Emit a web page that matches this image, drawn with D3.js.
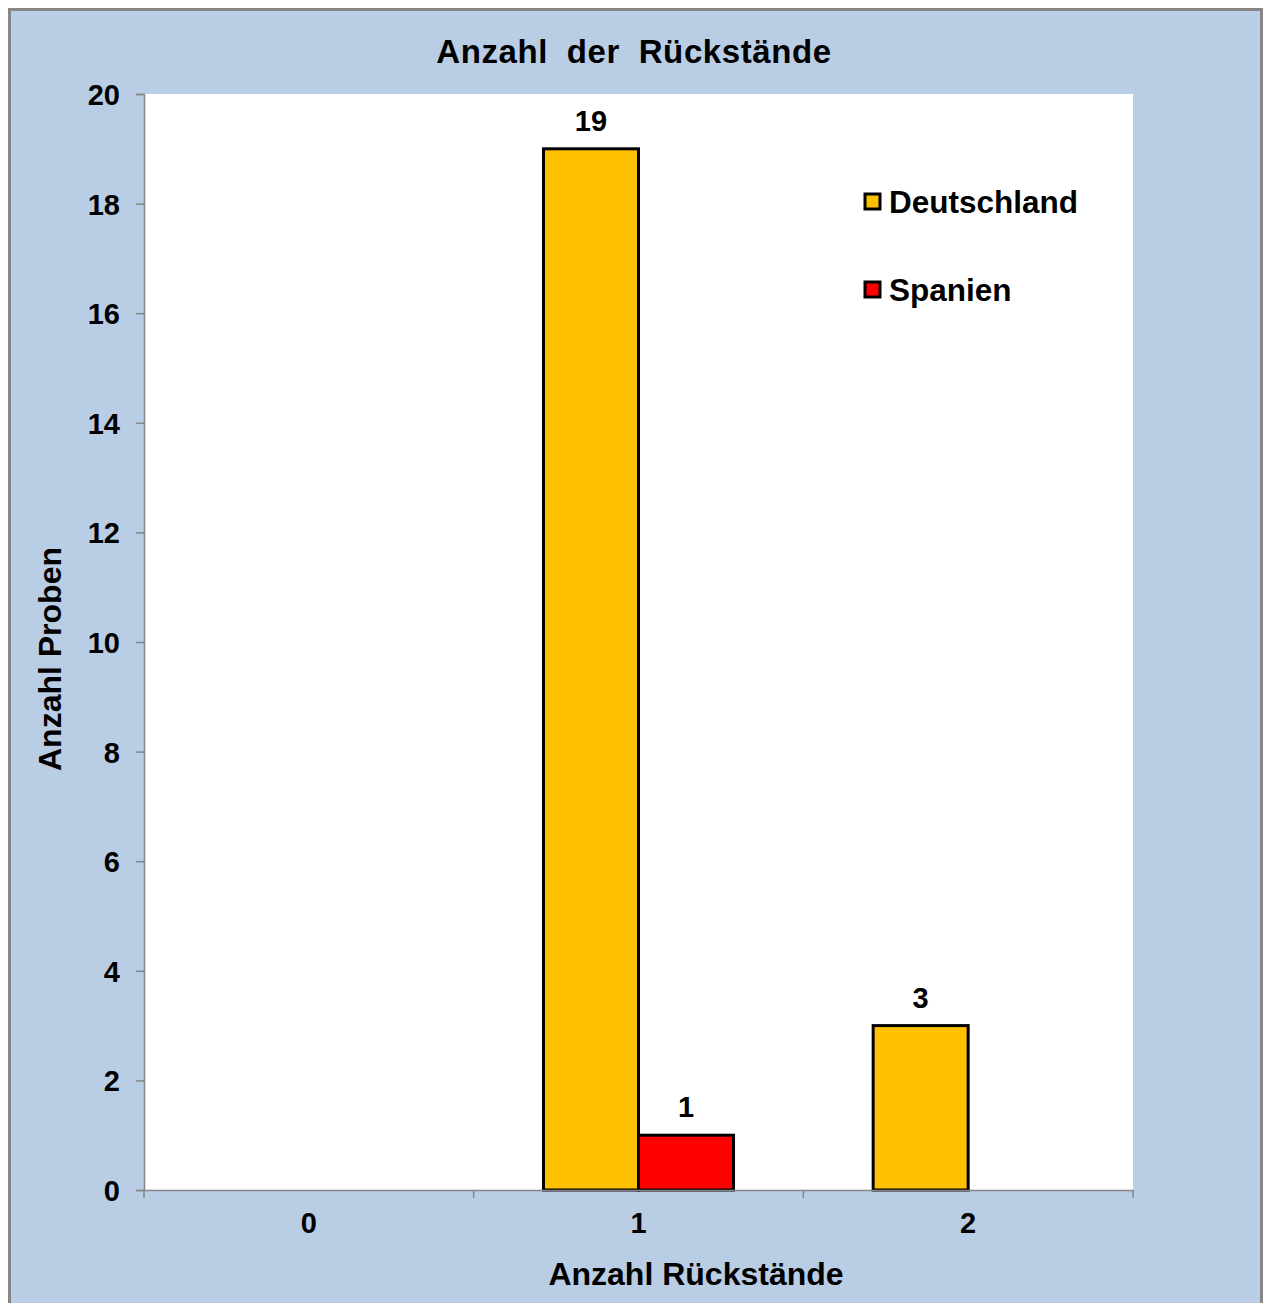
<!DOCTYPE html>
<html>
<head>
<meta charset="utf-8">
<script src="https://cdn.jsdelivr.net/npm/d3@7"></script>
<style>
  html, body { margin: 0; padding: 0; background: #ffffff; }
  svg { display: block; }
  text { font-family: "Liberation Sans", Arial, sans-serif; font-weight: bold; fill: #000; }
</style>
</head>
<body>
<script>
// Chart data
const categories = ["0", "1", "2"];
const seriesNames = ["Deutschland", "Spanien"];
const deutschland = [0, 19, 3];
const spanien = [0, 1, 0];
const yTicks = [0, 2, 4, 6, 8, 10, 12, 14, 16, 18, 20];
const colors = { "Deutschland": "#FFC000", "Spanien": "#FF0000" };

const W = 1264, H = 1303;
const plot = { left: 144, top: 94, right: 1133, bottom: 1190 };

const svg = d3.select("body").append("svg").attr("width", W).attr("height", H);

// Chart area background with grey frame
svg.append("rect").attr("x", 9.5).attr("y", 9.5).attr("width", W - 12).attr("height", H + 20)
  .attr("fill", "#B9CDE5").attr("stroke", "#868686").attr("stroke-width", 3);

// Plot area
svg.append("rect").attr("x", plot.left).attr("y", plot.top)
  .attr("width", plot.right - plot.left).attr("height", plot.bottom - plot.top)
  .attr("fill", "#ffffff");

const x = d3.scaleBand().domain(categories).range([plot.left, plot.right]).padding(0);
const xSub = d3.scaleBand().domain(seriesNames).range([0, x.bandwidth()])
  .paddingInner(0).paddingOuter(0.735);
const y = d3.scaleLinear().domain([0, 20]).range([plot.bottom, plot.top]);

const rows = categories.map((c, i) => ({
  cat: c,
  values: [
    { name: "Deutschland", value: deutschland[i] },
    { name: "Spanien", value: spanien[i] }
  ]
}));

// Bars (zero values are not drawn)
const groups = svg.append("g").selectAll("g").data(rows).join("g")
  .attr("transform", d => `translate(${x(d.cat)},0)`);

groups.selectAll("rect").data(d => d.values.filter(v => v.value > 0)).join("rect")
  .attr("x", d => xSub(d.name))
  .attr("y", d => y(d.value))
  .attr("width", xSub.bandwidth())
  .attr("height", d => y(0) - y(d.value))
  .attr("fill", d => colors[d.name])
  .attr("stroke", "#000").attr("stroke-width", 3);

// Value labels
groups.selectAll("text.val").data(d => d.values.filter(v => v.value > 0)).join("text")
  .attr("class", "val")
  .attr("x", d => xSub(d.name) + xSub.bandwidth() / 2)
  .attr("y", d => y(d.value) - 18)
  .attr("text-anchor", "middle")
  .style("font-size", "29px")
  .text(d => d.value);

// Y axis
const yAxis = svg.append("g").attr("transform", `translate(${plot.left},0)`)
  .call(d3.axisLeft(y).tickValues(yTicks).tickSize(8).tickPadding(16));
yAxis.select(".domain").attr("stroke", "#868686").attr("stroke-width", 1.5);
yAxis.selectAll(".tick line").attr("stroke", "#868686").attr("stroke-width", 1.5);
yAxis.selectAll(".tick text").style("font-size", "29px")
  .style("font-family", "'Liberation Sans', Arial, sans-serif").style("font-weight", "bold")
  .attr("fill", "#000").attr("dy", "0.36em");

// X axis: labels at category centres, tick marks at category boundaries
const xAxis = svg.append("g").attr("transform", `translate(0,${plot.bottom})`)
  .call(d3.axisBottom(x).tickSize(0).tickPadding(22));
xAxis.select(".domain").attr("stroke", "#868686").attr("stroke-width", 1.5);
xAxis.selectAll(".tick text").style("font-size", "29px")
  .style("font-family", "'Liberation Sans', Arial, sans-serif").style("font-weight", "bold")
  .attr("fill", "#000");
const bounds = categories.map(c => x(c)).concat([x(categories[categories.length - 1]) + x.bandwidth()]);
xAxis.selectAll("line.bound").data(bounds).join("line")
  .attr("class", "bound")
  .attr("x1", d => d).attr("x2", d => d).attr("y1", 0).attr("y2", 8)
  .attr("stroke", "#868686").attr("stroke-width", 1.5);

// Titles
svg.append("text").attr("x", 634).attr("y", 63).attr("text-anchor", "middle")
  .style("font-size", "33px").style("letter-spacing", "0.6px").style("word-spacing", "9px")
  .text("Anzahl der Rückstände");
svg.append("text").attr("x", 696).attr("y", 1285).attr("text-anchor", "middle")
  .style("font-size", "32px").text("Anzahl Rückstände");
svg.append("text").attr("transform", "translate(61,659) rotate(-90)").attr("text-anchor", "middle")
  .style("font-size", "32px").text("Anzahl Proben");

// Legend
const legend = svg.append("g").selectAll("g").data(seriesNames).join("g")
  .attr("transform", (d, i) => `translate(865,${194 + i * 88})`);
legend.append("rect").attr("x", 0).attr("y", 0).attr("width", 15).attr("height", 15)
  .attr("fill", d => colors[d]).attr("stroke", "#000").attr("stroke-width", 3);
legend.append("text").attr("x", 24).attr("y", 19).style("font-size", "31.5px").text(d => d);
</script>
</body>
</html>
